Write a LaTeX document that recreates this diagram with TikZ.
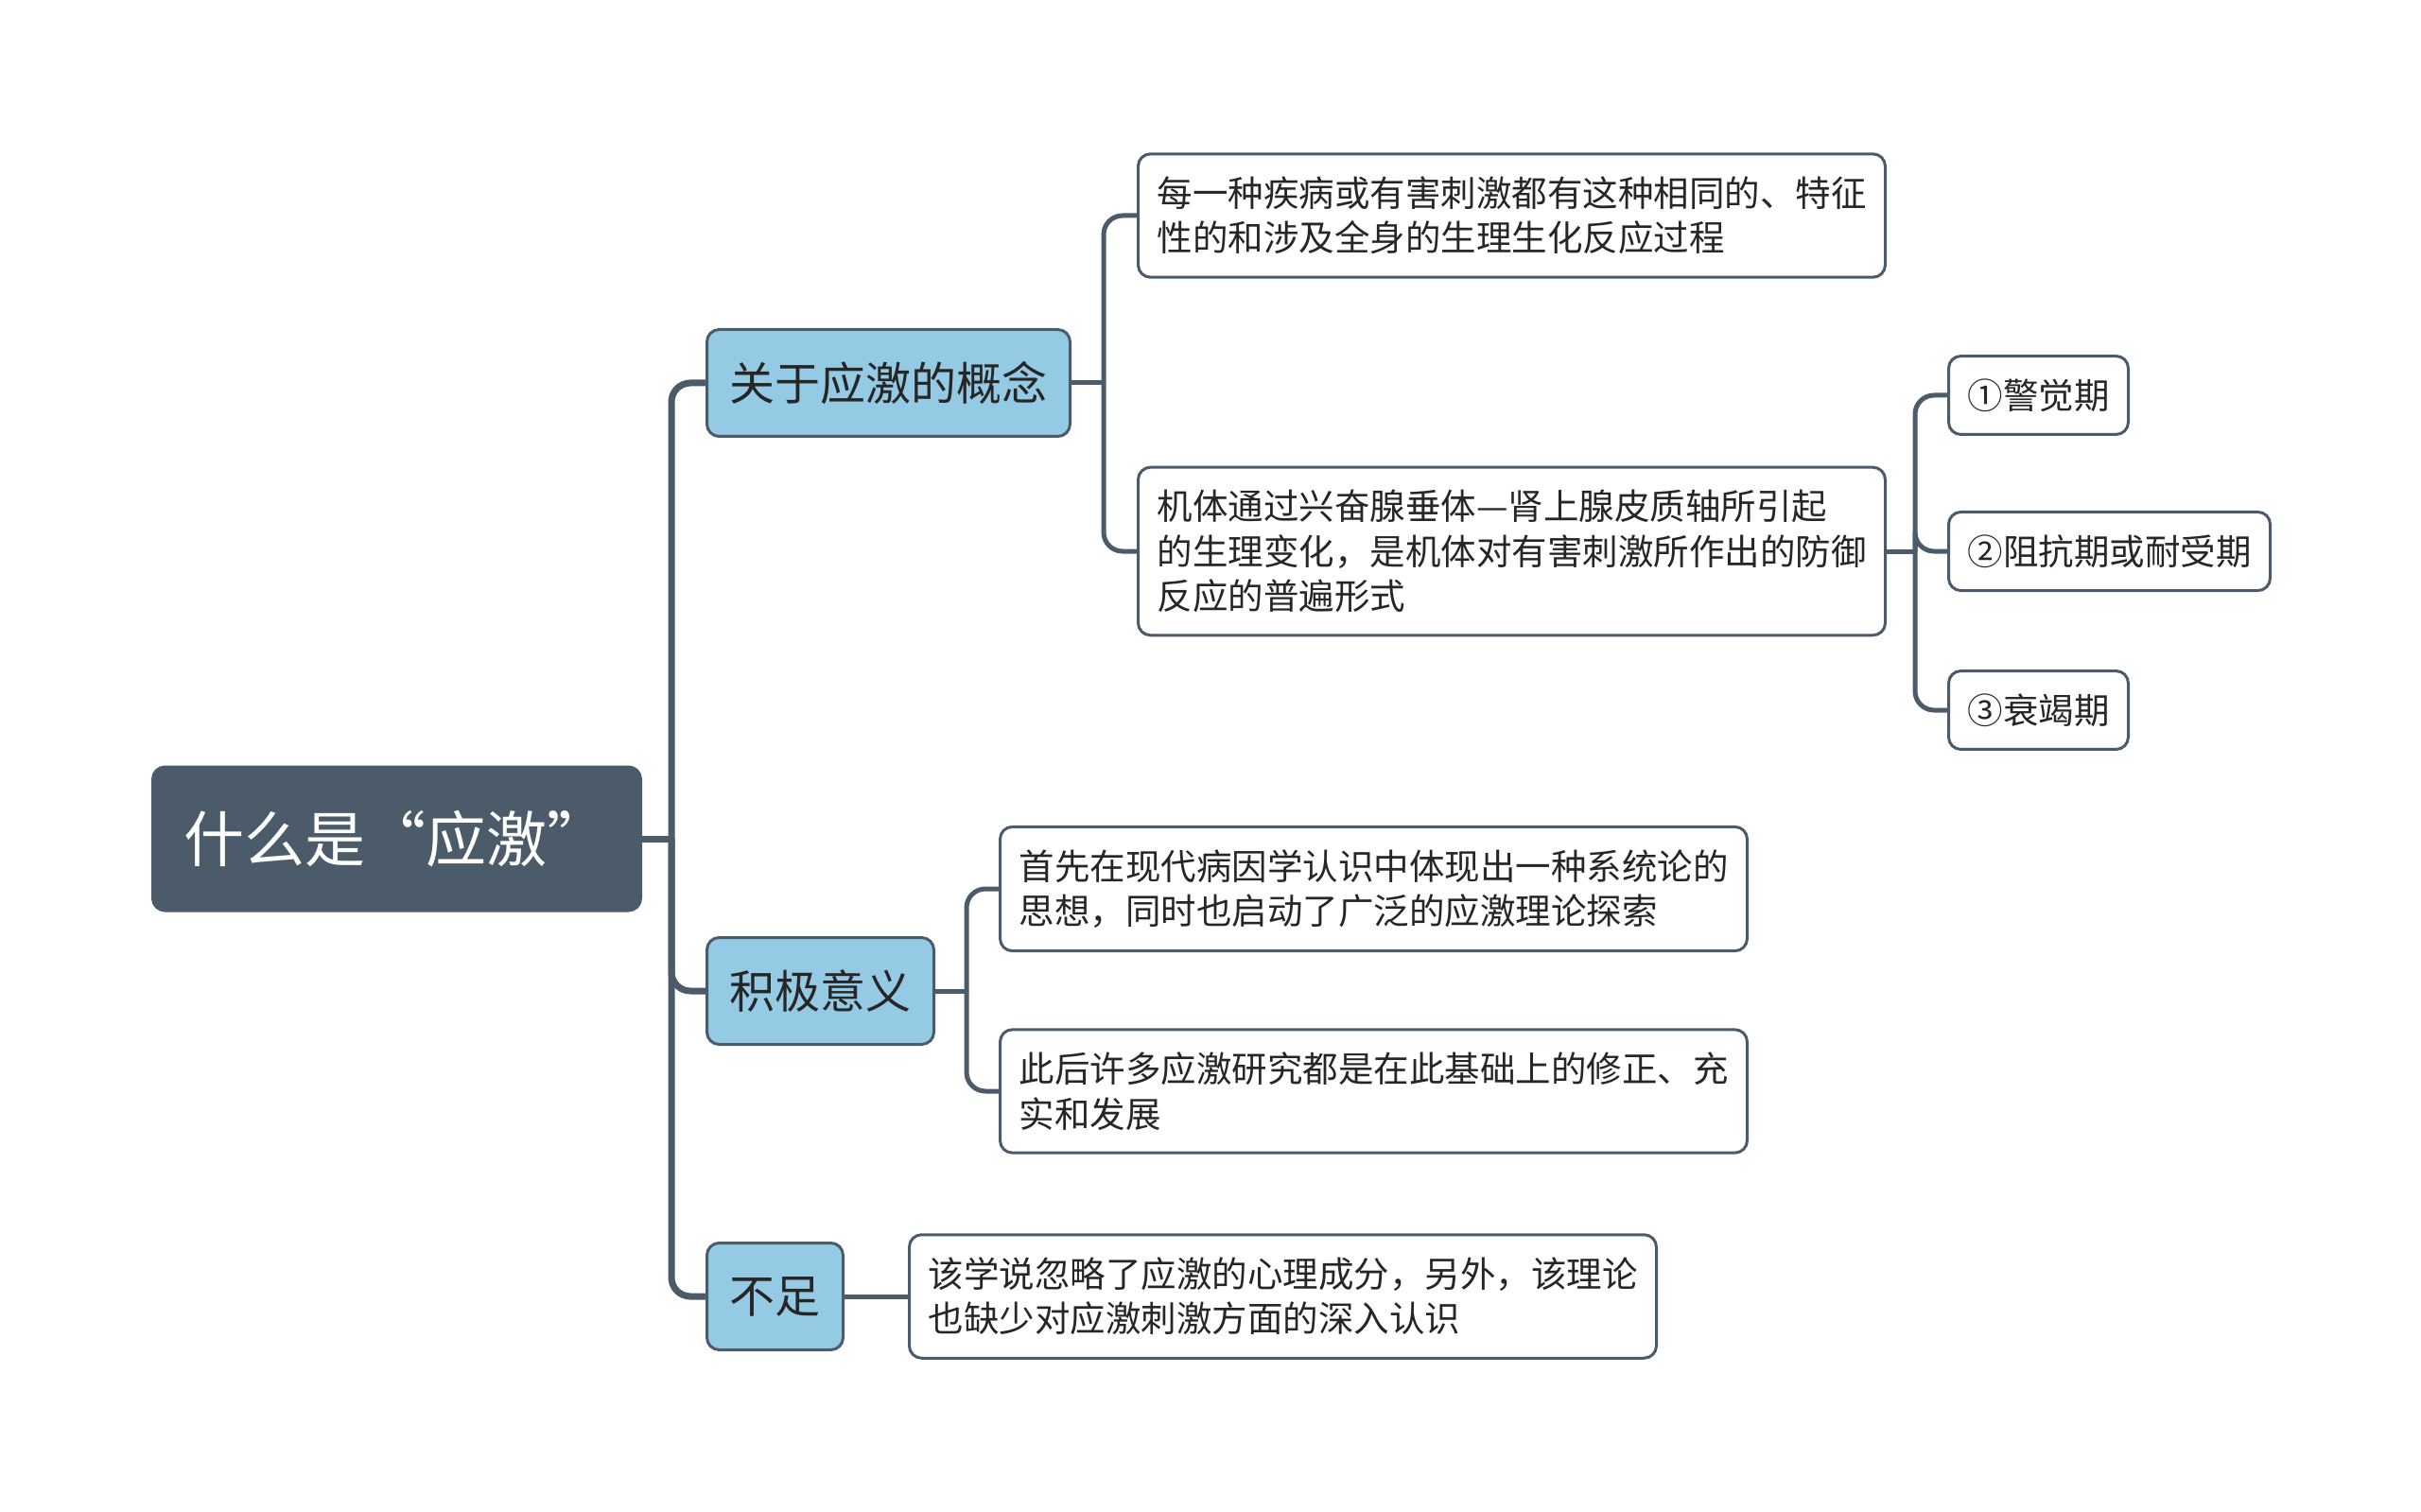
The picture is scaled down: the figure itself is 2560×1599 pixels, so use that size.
\documentclass[tikz,border=0pt]{standalone}
\usepackage{fontspec}
\setmainfont{Noto Sans CJK SC}
\usepackage{tikz}
\usetikzlibrary{positioning}
\usepackage{xcolor}
\definecolor{slate}{HTML}{4B5B6A}
\definecolor{skyblue}{HTML}{95CAE4}
\definecolor{inktext}{HTML}{262626}

\begin{document}
\begin{tikzpicture}[
                x=0.5pt, y=-0.5pt,
                every node/.style={draw=slate, line width=1.5pt, rounded corners=6.5pt, text=inktext, align=left, anchor=west},
                root/.style={fill=slate, text=white, font=\fontsize{32}{38}\selectfont, inner xsep=16.5pt, text width=225pt, minimum height=76pt},
                topic/.style={fill=skyblue, font=\fontsize{24}{30}\selectfont, inner xsep=12pt, minimum height=56.5pt},
                leaf/.style={fill=white, font=\fontsize{18.75}{23.7}\selectfont, inner xsep=10pt, inner ysep=12pt},
                link/.style={draw=slate, line width=2.5pt, rounded corners=10pt},
                mainlink/.style={link, line width=3.5pt}
            ]
                \useasboundingbox (0, 0) rectangle (2560, 1599);
                \node[root] (0) at (160, 887) {什么是“应激”};
                \node[topic] (1) at (746, 405) {关于应激的概念};
                \node[topic] (2) at (746, 1048) {积极意义};
                \node[topic] (3) at (746, 1371) {不足};
                \node[leaf] (11) at (1202, 228) {每一种疾病或有害刺激都有这种相同的、特征\\性的和涉及全身的生理生化反应过程};
                \node[leaf] (12) at (1202, 583) {机体通过兴奋腺垂体—肾上腺皮质轴所引起\\的生理变化，是机体对有害刺激所作出的防御\\反应的普遍形式};
                \node[leaf] (121) at (2059, 418) {①警觉期};
                \node[leaf] (122) at (2059, 583) {②阻抗期或耐受期};
                \node[leaf] (123) at (2059, 751) {③衰竭期};
                \node[leaf] (21) at (1056, 940) {首先在现代病因学认识中体现出一种系统论的\\思想，同时也启动了广泛的应激理论探索};
                \node[leaf] (22) at (1056, 1154) {此后许多应激研究都是在此基础上的修正、充\\实和发展};
                \node[leaf] (31) at (960, 1371) {该学说忽略了应激的心理成分，另外，该理论\\也缺少对应激刺激方面的深入认识};
                \coordinate (t0) at (710, 887);
                \coordinate (t1) at (1167, 405);
                \coordinate (t2) at (1022, 1048);
                \coordinate (t12) at (2025, 583);
                \draw[mainlink] (0.east) -- (t0);
                \draw[mainlink] (t0) |- (1.west);
                \draw[mainlink] (t0) |- (2.west);
                \draw[mainlink] (t0) |- (3.west);
                \draw[link] (1.east) -- (t1);
                \draw[link] (t1) |- (11.west);
                \draw[link] (t1) |- (12.west);
                \draw[link] (2.east) -- (t2);
                \draw[link] (t2) |- (21.west);
                \draw[link] (t2) |- (22.west);
                \draw[link] (3.east) -- (31.west);
                \draw[link] (12.east) -- (t12);
                \draw[link] (t12) |- (121.west);
                \draw[link] (t12) |- (122.west);
                \draw[link] (t12) |- (123.west);
            \end{tikzpicture}
\end{document}
